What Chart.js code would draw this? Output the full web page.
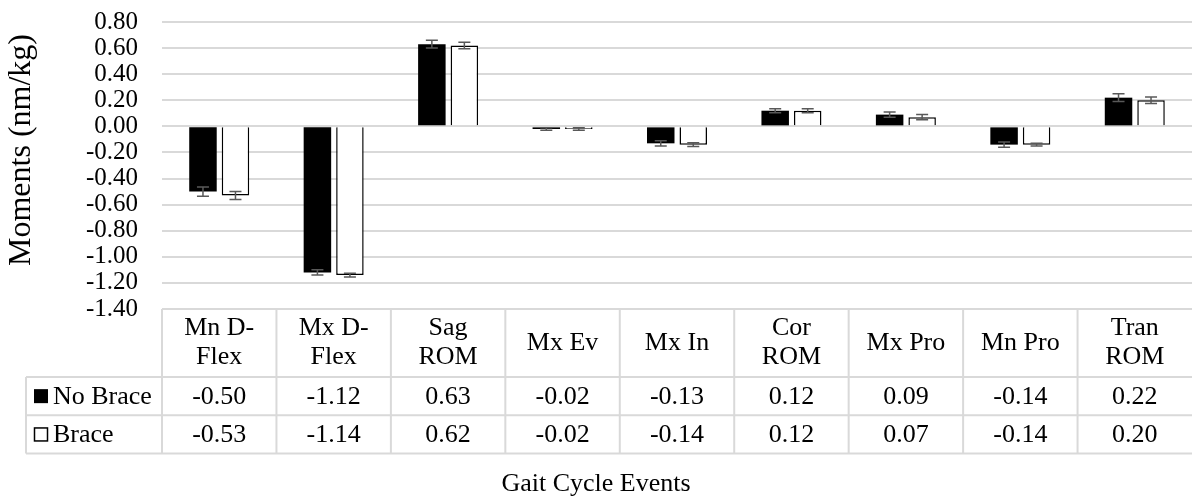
<!DOCTYPE html>
<html>
<head>
<meta charset="utf-8">
<script src="https://cdn.jsdelivr.net/npm/chart.js@4/dist/chart.umd.min.js"></script>
<style>
  html, body { margin: 0; padding: 0; background: #fff; }
  #wrap { width: 1192px; height: 497px; }
</style>
</head>
<body>
<div id="wrap"><canvas id="chart" width="1192" height="497"></canvas></div>
<script>
// categories (header rows of the data table)
const categories = [
  ["Mn D-", "Flex"], ["Mx D-", "Flex"], ["Sag", "ROM"], ["Mx Ev"], ["Mx In"],
  ["Cor", "ROM"], ["Mx Pro"], ["Mn Pro"], ["Tran", "ROM"]
];
const noBrace = [-0.50, -1.12, 0.63, -0.02, -0.13, 0.12, 0.09, -0.14, 0.22];
const brace = [-0.53, -1.14, 0.62, -0.02, -0.14, 0.12, 0.07, -0.14, 0.20];
// error bar half-lengths
const noBraceErr = [0.035, 0.02, 0.03, 0.01, 0.02, 0.015, 0.02, 0.02, 0.03];
const braceErr = [0.03, 0.015, 0.025, 0.01, 0.015, 0.015, 0.02, 0.01, 0.025];
const seriesNames = ["No Brace", "Brace"];

const FONT = "Liberation Serif";
const GRID = "#d9d9d9";

// error bars drawn at each bar's position through the y scale
const errorBars = {
  id: "errorBars",
  afterDatasetsDraw(chart) {
    const ctx = chart.ctx;
    const y = chart.scales.y;
    const errs = [noBraceErr, braceErr];
    ctx.save();
    ctx.strokeStyle = "#595959";
    ctx.lineWidth = 1.5;
    chart.data.datasets.forEach((ds, di) => {
      chart.getDatasetMeta(di).data.forEach((bar, i) => {
        const v = ds.data[i], e = errs[di][i];
        const y1 = y.getPixelForValue(v + e), y2 = y.getPixelForValue(v - e);
        ctx.beginPath();
        ctx.moveTo(bar.x, y1); ctx.lineTo(bar.x, y2);
        ctx.moveTo(bar.x - 6, y1); ctx.lineTo(bar.x + 6, y1);
        ctx.moveTo(bar.x - 6, y2); ctx.lineTo(bar.x + 6, y2);
        ctx.stroke();
      });
    });
    ctx.restore();
  }
};

// data table under the plot, axis titles
const dataTable = {
  id: "dataTable",
  afterDraw(chart) {
    const ctx = chart.ctx;
    const area = chart.chartArea;
    const x = chart.scales.x;
    const n = categories.length;
    const colW = (area.right - area.left) / n;
    const top = area.bottom;
    const hdrB = top + 68, r1B = hdrB + 38.3, r2B = r1B + 38.3;
    const tLeft = 26;
    ctx.save();
    ctx.strokeStyle = GRID;
    ctx.lineWidth = 2;
    ctx.beginPath();
    [hdrB, r1B, r2B].forEach(yy => { ctx.moveTo(tLeft, yy); ctx.lineTo(area.right, yy); });
    ctx.moveTo(area.left, top); ctx.lineTo(area.left, r2B);
    ctx.moveTo(tLeft, hdrB); ctx.lineTo(tLeft, r2B);
    for (let i = 1; i < n; i++) {
      const xx = area.left + i * colW;
      ctx.moveTo(xx, top); ctx.lineTo(xx, r2B);
    }
    ctx.stroke();

    ctx.fillStyle = "#000";
    ctx.font = "26px '" + FONT + "'";
    ctx.textAlign = "center";
    ctx.textBaseline = "middle";
    const hdrMid = (top + hdrB) / 2;
    categories.forEach((lines, i) => {
      const cx = x.getPixelForValue(i);
      lines.forEach((t, k) => {
        ctx.fillText(t, cx, hdrMid + (k - (lines.length - 1) / 2) * 29);
      });
      ctx.fillText(noBrace[i].toFixed(2), cx, (hdrB + r1B) / 2 + 1);
      ctx.fillText(brace[i].toFixed(2), cx, (r1B + r2B) / 2 + 1);
    });

    // legend keys inside the table
    ctx.textAlign = "left";
    [[hdrB, r1B], [r1B, r2B]].forEach(([a, b], k) => {
      const cy = (a + b) / 2;
      if (k === 0) {
        ctx.fillStyle = "#000";
        ctx.fillRect(34, cy - 7, 14, 14);
      } else {
        ctx.strokeStyle = "#000";
        ctx.lineWidth = 1.5;
        ctx.strokeRect(34.5, cy - 6.5, 13, 13);
      }
      ctx.fillStyle = "#000";
      ctx.fillText(seriesNames[k], 53, cy + 1);
    });

    // axis titles
    ctx.textAlign = "center";
    ctx.fillText("Gait Cycle Events", chart.width / 2, 484);
    ctx.save();
    ctx.translate(22, 150);
    ctx.rotate(-Math.PI / 2);
    ctx.font = "32px '" + FONT + "'";
    ctx.fillText("Moments (nm/kg)", 0, 0);
    ctx.restore();
    ctx.restore();
  }
};

new Chart(document.getElementById("chart"), {
  type: "bar",
  data: {
    labels: categories.map(c => c.join(" ")),
    datasets: [
      {
        label: seriesNames[0],
        data: noBrace,
        backgroundColor: "#000",
        borderWidth: 0,
      },
      {
        label: seriesNames[1],
        data: brace,
        backgroundColor: "#fff",
        borderColor: "#000",
        borderWidth: 1.5,
      },
    ],
  },
  options: {
    responsive: false,
    animation: false,
    categoryPercentage: 0.568,
    barPercentage: 0.846,
    layout: { padding: { top: 22, right: 0, bottom: 188, left: 0 } },
    plugins: {
      legend: { display: false },
      tooltip: { enabled: false },
    },
    scales: {
      x: { display: false },
      y: {
        min: -1.4,
        max: 0.8,
        afterFit(scale) {
          scale.width = 162;
          scale.paddingTop = 15;
          scale.paddingBottom = 15;
        },
        border: { display: false },
        grid: { color: GRID, lineWidth: 2, drawTicks: false },
        ticks: {
          stepSize: 0.2,
          autoSkip: false,
          padding: 24,
          color: "#000",
          font: { family: FONT, size: 25 },
          callback: v => v.toFixed(2),
        },
      },
    },
  },
  plugins: [errorBars, dataTable],
});
</script>
</body>
</html>
